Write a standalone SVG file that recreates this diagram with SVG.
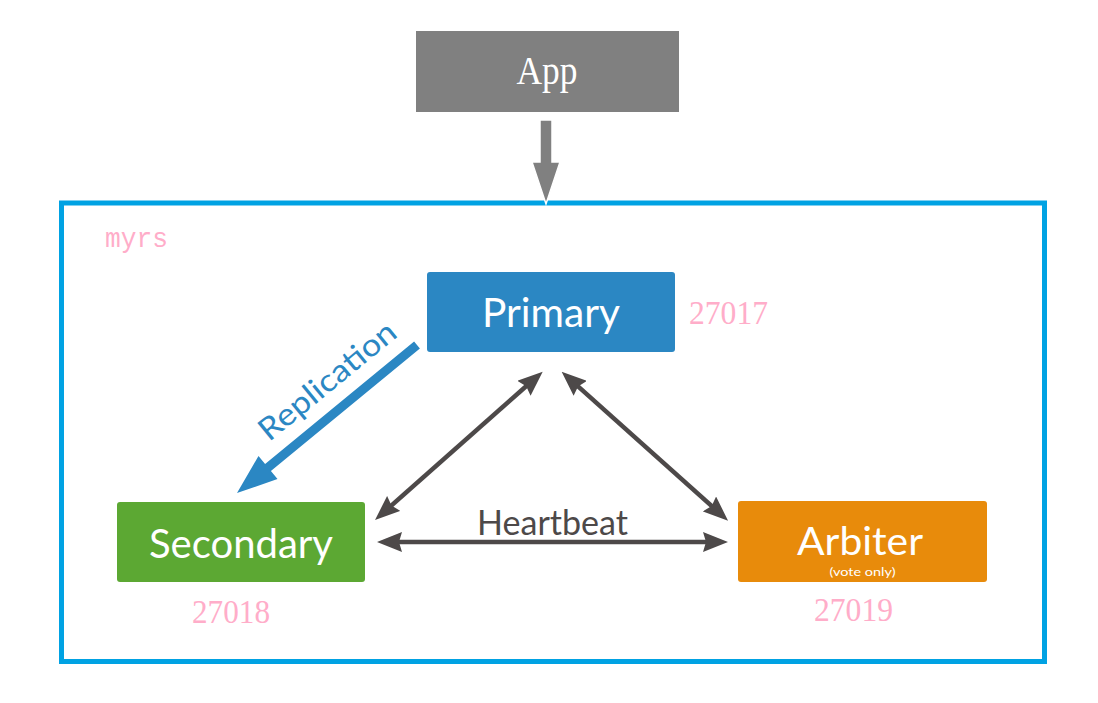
<svg xmlns="http://www.w3.org/2000/svg" width="1098" height="703" viewBox="0 0 1098 703">
  <style>
    .node-label { font-family: Lato, "Open Sans", sans-serif; fill: #ffffff; text-anchor: middle; }
    .port { font-family: "Liberation Serif", "Noto Sans CJK SC", serif; fill: #ffadc9; }
    .hb { fill: none; stroke: #4d4949; stroke-width: 4.5; }
  </style>
  <defs>
    <marker id="hbHead" viewBox="0 -10 25 20" refX="15" refY="0" markerWidth="25" markerHeight="20" markerUnits="userSpaceOnUse" orient="auto-start-reverse">
      <path d="M0,-10 L25,0 L0,10 L3,0 Z" fill="#4d4949"/>
    </marker>
  </defs>
  <rect width="1098" height="703" fill="#ffffff"/>

  <g id="replica-set">
    <rect x="61.5" y="203" width="983" height="458.5" fill="none" stroke="#00a2e3" stroke-width="5"/>
    <text x="105" y="246.5" font-family="'Liberation Mono', monospace" font-size="27" fill="#ffadc9" textLength="63" lengthAdjust="spacingAndGlyphs">myrs</text>
  </g>

  <g id="app">
    <rect x="416" y="31" width="263" height="81" fill="#808080"/>
    <text x="547" y="84" font-family="'Liberation Serif', 'Noto Sans CJK SC', serif" font-size="40" fill="#ffffff" text-anchor="middle" textLength="61" lengthAdjust="spacingAndGlyphs">App</text>
  </g>

  <g id="connectors">
    <polygon points="540,120 552,120 552,162 560,162 546,204 532,162 540,162" fill="#808080" stroke="#ffffff" stroke-width="1.5" stroke-linejoin="miter"/>
    <polygon points="414.1,341.5 265.1,464.0 258.5,455.9 237,493 277.5,479.1 270.9,471.0 419.9,348.5" fill="#2b87c3"/>
    <text transform="translate(334,389) rotate(-39.4)" font-family="Lato, 'Open Sans', sans-serif" font-size="31" fill="#2b87c3" text-anchor="middle" textLength="168" lengthAdjust="spacingAndGlyphs">Replication</text>
    <line class="hb" x1="535.2" y1="378.3" x2="382.5" y2="513.4" marker-start="url(#hbHead)" marker-end="url(#hbHead)"/>
    <line class="hb" x1="569.1" y1="378.4" x2="720.6" y2="514.0" marker-start="url(#hbHead)" marker-end="url(#hbHead)"/>
    <line class="hb" x1="387" y1="542" x2="718" y2="542" marker-start="url(#hbHead)" marker-end="url(#hbHead)"/>
    <text x="552.5" y="535" font-family="Lato, 'Open Sans', sans-serif" font-size="34" fill="#4d4949" text-anchor="middle" textLength="151" lengthAdjust="spacingAndGlyphs">Heartbeat</text>
  </g>

  <g id="primary">
    <rect x="427" y="272" width="248" height="80" rx="3" fill="#2b87c3"/>
    <text class="node-label" x="551" y="327" font-size="40" textLength="138" lengthAdjust="spacingAndGlyphs">Primary</text>
    <text class="port" x="689" y="324" font-size="33" textLength="79" lengthAdjust="spacingAndGlyphs">27017</text>
  </g>

  <g id="secondary">
    <rect x="117" y="502" width="248" height="80" rx="3" fill="#5ca833"/>
    <text class="node-label" x="241" y="558" font-size="40" textLength="184" lengthAdjust="spacingAndGlyphs">Secondary</text>
    <text class="port" x="192" y="623" font-size="33" textLength="78" lengthAdjust="spacingAndGlyphs">27018</text>
  </g>

  <g id="arbiter">
    <rect x="738" y="501" width="249" height="81" rx="3" fill="#e88b0b"/>
    <text class="node-label" x="860" y="555" font-size="38" textLength="126" lengthAdjust="spacingAndGlyphs">Arbiter</text>
    <text class="node-label" x="862.5" y="576" font-size="11" textLength="66" lengthAdjust="spacingAndGlyphs">(vote only)</text>
    <text class="port" x="814" y="621" font-size="33" textLength="79" lengthAdjust="spacingAndGlyphs">27019</text>
  </g>
</svg>
